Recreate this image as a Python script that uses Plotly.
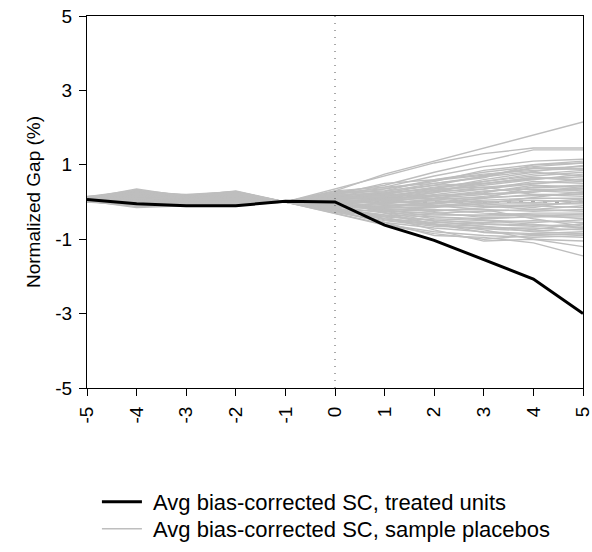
import plotly.graph_objects as go

event_time = [-5, -4, -3, -2, -1, 0, 1, 2, 3, 4, 5]
x_tick_labels = ["-5", "-4", "-3", "-2", "-1", "0", "1", "2", "3", "4", "5"]
treatment_time = 0
y_ticks = [-5, -3, -1, 1, 3, 5]
y_tick_labels = ["-5", "-3", "-1", "1", "3", "5"]

treated_gap = [0.07, -0.05, -0.10, -0.10, 0.02, 0.00, -0.62, -1.03, -1.55, -2.07, -3.00]

placebo_gaps = [
    [0.10, 0.35, 0.15, 0.30, 0, 0.30, 0.75, 1.10, 1.45, 1.80, 2.15],
    [0.12, 0.30, 0.18, 0.25, 0, 0.35, 0.70, 1.05, 1.30, 1.45, 1.45],
    [0.08, 0.28, 0.12, 0.22, 0, 0.25, 0.45, 0.80, 1.10, 1.40, 1.40],
    [0.05, 0.20, 0.10, 0.18, 0, 0.20, 0.40, 0.70, 0.95, 1.10, 1.15],
    [0.15, 0.25, 0.20, 0.28, 0, 0.15, 0.35, 0.55, 0.85, 1.00, 1.10],
    [0.10, 0.18, 0.05, 0.12, 0, 0.22, 0.30, 0.60, 0.80, 0.95, 1.05],
    [0.00, 0.10, 0.02, 0.05, 0, 0.10, 0.25, 0.45, 0.70, 0.90, 0.95],
    [0.06, 0.15, 0.08, 0.15, 0, 0.18, 0.20, 0.40, 0.55, 0.75, 0.85],
    [0.12, 0.22, 0.14, 0.20, 0, 0.05, 0.15, 0.35, 0.60, 0.80, 0.70],
    [0.04, 0.05, 0.00, 0.02, 0, 0.12, 0.18, 0.30, 0.45, 0.60, 0.75],
    [0.09, 0.12, 0.06, 0.10, 0, 0.08, 0.10, 0.25, 0.40, 0.50, 0.55],
    [0.02, -0.05, -0.05, 0.00, 0, 0.00, 0.05, 0.20, 0.35, 0.55, 0.50],
    [0.14, 0.20, 0.10, 0.16, 0, -0.05, 0.00, 0.15, 0.25, 0.45, 0.40],
    [0.07, 0.08, 0.04, 0.06, 0, 0.15, 0.12, 0.10, 0.20, 0.30, 0.35],
    [0.10, 0.02, 0.00, -0.02, 0, -0.10, -0.05, 0.05, 0.15, 0.30, 0.25],
    [0.03, 0.10, 0.03, 0.08, 0, 0.05, 0.02, 0.00, 0.10, 0.20, 0.15],
    [0.11, 0.16, 0.09, 0.12, 0, 0.10, -0.08, -0.05, 0.05, 0.10, 0.10],
    [0.05, -0.02, -0.03, 0.04, 0, -0.15, -0.10, -0.10, 0.00, 0.05, 0.00],
    [0.13, 0.25, 0.16, 0.22, 0, 0.02, -0.15, -0.15, -0.05, -0.05, -0.05],
    [0.08, 0.05, 0.02, 0.03, 0, -0.05, -0.20, -0.25, -0.15, -0.10, -0.15],
    [0.00, -0.08, -0.06, -0.04, 0, -0.20, -0.25, -0.30, -0.25, -0.20, -0.25],
    [0.10, 0.12, 0.10, 0.14, 0, -0.12, -0.30, -0.35, -0.35, -0.30, -0.30],
    [0.06, 0.00, 0.01, 0.00, 0, -0.18, -0.35, -0.40, -0.45, -0.40, -0.40],
    [0.04, -0.10, -0.08, -0.06, 0, -0.25, -0.40, -0.50, -0.55, -0.50, -0.55],
    [0.12, 0.18, 0.12, 0.16, 0, -0.08, -0.45, -0.55, -0.60, -0.65, -0.60],
    [0.02, -0.12, -0.10, -0.08, 0, -0.28, -0.50, -0.65, -0.70, -0.70, -0.75],
    [0.09, 0.06, 0.05, 0.08, 0, -0.22, -0.55, -0.70, -0.80, -0.85, -0.80],
    [0.07, -0.04, -0.02, 0.02, 0, -0.30, -0.60, -0.80, -0.90, -0.95, -0.90],
    [0.03, -0.15, -0.10, -0.10, 0, -0.30, -0.62, -0.85, -1.00, -0.90, -0.95],
    [0.11, 0.10, 0.07, 0.10, 0, -0.15, -0.40, -0.75, -1.05, -1.00, -1.05],
    [0.05, 0.02, 0.00, 0.01, 0, -0.25, -0.55, -0.90, -0.95, -1.10, -1.45],
    [0.08, 0.14, 0.08, 0.12, 0, 0.05, -0.30, -0.60, -0.75, -1.00, -1.20],
    [0.10, 0.22, 0.12, 0.20, 0, 0.20, 0.50, 0.60, 0.75, 0.85, 0.90],
    [0.13, 0.30, 0.17, 0.26, 0, 0.28, 0.30, 0.45, 0.50, 0.65, 0.60],
    [0.06, 0.08, 0.04, 0.06, 0, 0.02, 0.08, 0.15, 0.30, 0.35, 0.30],
    [0.09, 0.04, 0.03, 0.05, 0, -0.02, -0.02, 0.05, -0.10, -0.20, -0.10],
    [0.04, -0.06, -0.04, -0.02, 0, -0.08, -0.12, -0.20, -0.30, -0.35, -0.45],
    [0.12, 0.16, 0.11, 0.18, 0, 0.12, 0.10, -0.10, -0.20, -0.45, -0.65],
    [0.07, 0.12, 0.06, 0.10, 0, 0.08, 0.20, 0.15, -0.05, -0.15, 0.05],
    [0.10, 0.20, 0.13, 0.24, 0, 0.18, 0.25, 0.35, 0.40, 0.20, 0.20],
    [0.05, 0.00, 0.02, 0.04, 0, -0.05, 0.05, 0.25, 0.55, 0.70, 0.80],
    [0.08, 0.10, 0.08, 0.10, 0, 0.00, -0.25, -0.45, -0.50, -0.60, -0.70],
    [0.11, 0.26, 0.14, 0.24, 0, 0.30, 0.40, 0.50, 0.65, 1.00, 1.05],
    [0.03, -0.08, -0.07, -0.05, 0, -0.20, -0.45, -0.60, -0.65, -0.80, -0.85],
    [0.14, 0.32, 0.18, 0.28, 0, 0.10, 0.05, -0.05, 0.10, 0.40, 0.45],
    [0.09, 0.18, 0.10, 0.16, 0, 0.14, 0.28, 0.50, 0.68, 0.82, 0.98],
    [0.06, 0.06, 0.03, 0.07, 0, 0.06, 0.22, 0.38, 0.50, 0.62, 0.68],
    [0.12, 0.24, 0.15, 0.21, 0, 0.16, 0.12, 0.28, 0.35, 0.48, 0.62],
    [0.04, -0.03, -0.02, 0.01, 0, -0.06, 0.08, 0.18, 0.22, 0.26, 0.42],
    [0.10, 0.14, 0.09, 0.13, 0, 0.04, -0.04, 0.08, 0.12, 0.16, 0.22],
    [0.07, 0.03, 0.02, 0.04, 0, -0.10, -0.12, -0.02, 0.02, -0.02, 0.08],
    [0.13, 0.28, 0.16, 0.25, 0, 0.20, 0.02, -0.08, -0.12, -0.08, -0.02],
    [0.05, -0.06, -0.05, -0.03, 0, -0.14, -0.18, -0.22, -0.20, -0.25, -0.20],
    [0.08, 0.09, 0.06, 0.09, 0, -0.04, -0.22, -0.32, -0.38, -0.35, -0.35],
    [0.11, 0.20, 0.12, 0.18, 0, 0.06, -0.20, -0.40, -0.48, -0.55, -0.48],
    [0.02, -0.10, -0.08, -0.06, 0, -0.22, -0.38, -0.48, -0.58, -0.62, -0.68],
    [0.09, 0.04, 0.04, 0.06, 0, -0.16, -0.48, -0.62, -0.72, -0.78, -0.72],
    [0.06, -0.01, 0.00, 0.02, 0, -0.20, -0.35, -0.58, -0.82, -0.88, -0.86],
    [0.12, 0.22, 0.13, 0.22, 0, 0.24, 0.36, 0.58, 0.72, 0.92, 0.88],
    [0.10, 0.15, 0.10, 0.15, 0, 0.12, 0.14, 0.32, 0.48, 0.66, 0.58],
    [0.07, 0.07, 0.05, 0.08, 0, 0.00, 0.04, 0.10, 0.28, 0.40, 0.36],
    [0.04, -0.04, -0.03, 0.00, 0, -0.08, -0.16, -0.12, -0.04, 0.12, 0.28],
    [0.13, 0.24, 0.15, 0.23, 0, 0.08, -0.06, -0.28, -0.42, -0.40, -0.32],
    [0.08, 0.11, 0.07, 0.11, 0, -0.02, -0.28, -0.52, -0.66, -0.74, -0.58],
]

FONT = "Liberation Sans, Arial, sans-serif"
GRAY = "#bebebe"
FS_TICK = 19
FS_TITLE = 19
FS_LEG = 22

fig = go.Figure()
for i, g in enumerate(placebo_gaps):
    fig.add_trace(go.Scatter(
        x=event_time, y=g, mode="lines",
        line=dict(color=GRAY, width=1.4),
        name="\u00a0Avg bias-corrected SC, sample placebos",
        legend="legend2", showlegend=(i == 0),
        hoverinfo="skip",
    ))
fig.add_trace(go.Scatter(
    x=event_time, y=treated_gap, mode="lines",
    line=dict(color="black", width=3),
    name="\u00a0Avg bias-corrected SC, treated units", legend="legend",
))

fig.add_vline(x=treatment_time, line=dict(color="#555555", width=1, dash="1px,6px"))
fig.add_hline(y=0, line=dict(color="#555555", width=1, dash="4px,8px"), layer="below")

axis_common = dict(
    showline=True, linecolor="black", linewidth=1.2, mirror=True,
    ticks="outside", ticklen=7, tickwidth=1.2, tickcolor="black",
    showgrid=False, zeroline=False, automargin=False,
    ticklabeloverflow="allow", ticklabelstandoff=3,
    tickfont=dict(family=FONT, size=FS_TICK, color="black"),
)
fig.update_xaxes(range=[-5, 5], tickvals=event_time, ticktext=x_tick_labels,
                 tickangle=-90, **axis_common)
fig.update_yaxes(range=[-5, 5], tickvals=y_ticks, ticktext=y_tick_labels,
                 title=dict(text="Normalized Gap (%)", font=dict(family=FONT, size=FS_TITLE, color="black"), standoff=9),
                 **axis_common)

legend_common = dict(orientation="v", xanchor="left", yanchor="middle",
                     font=dict(family=FONT, size=FS_LEG, color="black"),
                     bgcolor="rgba(0,0,0,0)", itemwidth=40)
fig.update_layout(
    width=592, height=552,
    margin=dict(l=87, r=9, t=16, b=164, autoexpand=False),
    plot_bgcolor="white", paper_bgcolor="white",
    font=dict(family=FONT, size=FS_TICK, color="black"),
    showlegend=True,
    legend=dict(x=0.020, y=-0.306, **legend_common),
    legend2=dict(x=0.020, y=-0.379, **legend_common),
)

fig.write_html("out.html", config={"displayModeBar": False},
               post_script="document.body.style.margin='0';")
